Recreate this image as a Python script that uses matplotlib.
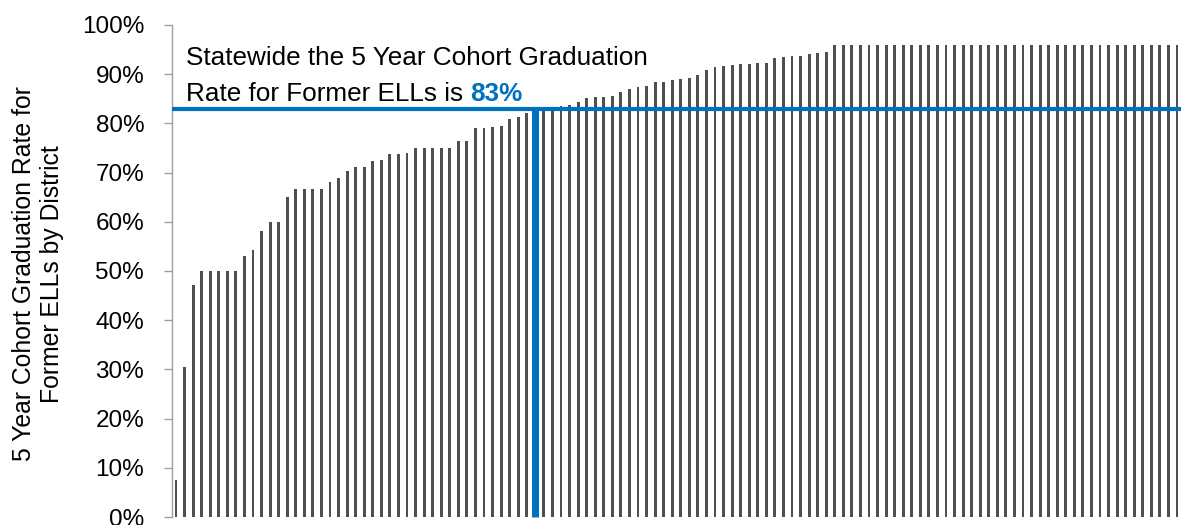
import matplotlib
matplotlib.use('Agg')
import matplotlib.pyplot as plt
from matplotlib.ticker import PercentFormatter

# graduation rate per district (%), sorted ascending
rates = [
    7.5, 30.5, 47.2, 50.0, 50.0, 50.0, 50.0, 50.0, 53.1, 54.3,
    58.1, 60.0, 60.0, 65.0, 66.7, 66.7, 66.7, 66.7, 68.0, 69.0,
    70.4, 71.2, 71.2, 72.3, 72.5, 73.7, 73.8, 73.9, 75.0, 75.0,
    75.0, 75.0, 75.0, 76.4, 76.4, 79.0, 79.0, 79.2, 79.5, 80.9,
    81.4, 82.2, 82.6, 83.1, 83.1, 83.6, 83.7, 84.4, 85.1, 85.3,
    85.3, 85.5, 86.4, 87.0, 87.3, 87.5, 88.4, 88.5, 88.8, 89.0,
    89.2, 89.8, 90.9, 91.5, 91.7, 91.8, 92.1, 92.1, 92.3, 92.3,
    93.2, 93.4, 93.6, 93.8, 94.2, 94.3, 94.5, 95.9, 95.9, 95.9,
    95.9, 95.9, 95.9, 95.9, 95.9, 95.9, 95.9, 95.9, 95.9, 95.9,
    95.9, 95.9, 95.9, 95.9, 95.9, 95.9, 95.9, 95.9, 95.9, 95.9,
    95.9, 95.9, 95.9, 95.9, 95.9, 95.9, 95.9, 95.9, 95.9, 95.9,
    95.9, 95.9, 95.9, 95.9, 95.9, 95.9, 95.9, 95.9,
]
statewide = 83.0
statewide_district = 42   # district position where the statewide line drops

bar_color = '#4f4f4f'
blue = '#0070c0'
narrow = ['Liberation Sans Narrow', 'Liberation Sans', 'DejaVu Sans']
plt.rcParams['font.family'] = ['Liberation Sans', 'DejaVu Sans']

fig = plt.figure(figsize=(11.82, 5.25), dpi=100)
ax = fig.add_axes([172 / 1182, 1 - 517 / 525, 1009 / 1182, 492 / 525])

x = list(range(len(rates)))
ax.bar(x, rates, width=0.33, color=bar_color, zorder=2)

ax.set_xlim(-0.47, len(rates) - 0.53)
ax.set_ylim(0, 100)

# statewide reference lines
ax.axhline(statewide, color=blue, linewidth=3, zorder=3)
ax.plot([statewide_district, statewide_district], [0, statewide],
        color=blue, linewidth=5, solid_capstyle='butt', zorder=3, clip_on=False)

ax.set_yticks(range(0, 101, 10))
ax.yaxis.set_major_formatter(PercentFormatter(decimals=0))
ax.set_xticks([])
ax.tick_params(axis='y', direction='out', length=6, width=1, color='#a0a0a0',
               pad=14, labelsize=17.5)

for s in ['top', 'right', 'bottom']:
    ax.spines[s].set_visible(False)
ax.spines['left'].set_color('#a0a0a0')
ax.spines['left'].set_linewidth(1)

# annotation
fs = 18.8
fig.text(186 / 1182, 1 - 65 / 525, 'Statewide the 5 Year Cohort Graduation',
         fontsize=fs, family=narrow, va='baseline', ha='left')
t2 = fig.text(186 / 1182, 1 - 101 / 525, 'Rate for Former ELLs is ',
              fontsize=fs, family=narrow, va='baseline', ha='left')
fig.canvas.draw()
bb = t2.get_window_extent()
fig.text(bb.x1 / fig.bbox.width, 1 - 101 / 525, '83%', fontsize=fs, family=narrow,
         fontweight='bold', color=blue, va='baseline', ha='left')

fig.text(38 / 1182, 1 - 274 / 525,
         '5 Year Cohort Graduation Rate for\nFormer ELLs by District',
         fontsize=17.8, family=narrow, rotation=90, ha='center', va='center',
         multialignment='center', linespacing=1.25)

fig.savefig('out.png', dpi=100)
